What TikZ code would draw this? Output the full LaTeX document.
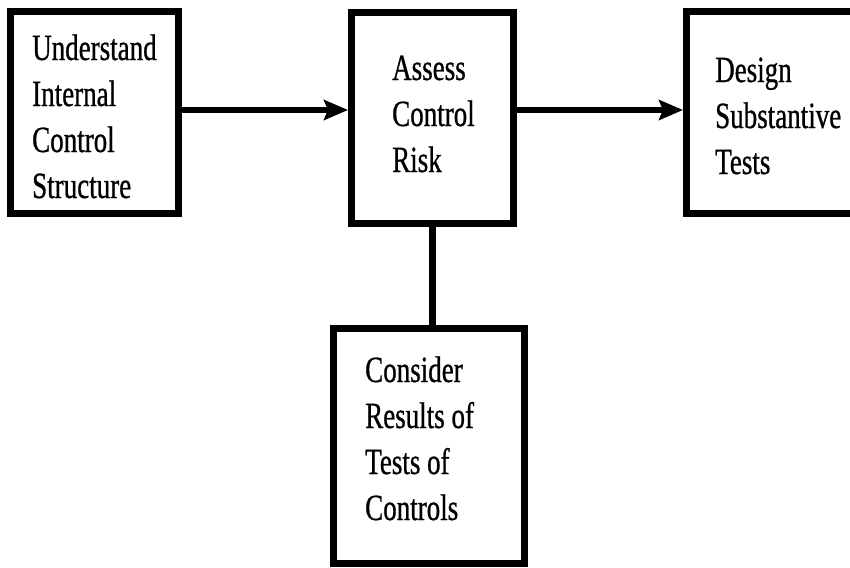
\documentclass[tikz,border=0pt]{standalone}
\usepackage{fontspec}
\newfontfamily\boxfont[FakeStretch=0.73,FakeBold=0.7]{Liberation Serif}
\usetikzlibrary{arrows.meta,positioning}
\begin{document}
\begin{tikzpicture}[x=1pt,y=-1pt,
  frame/.style={draw=black,line width=7pt,fill=white,rectangle,inner sep=0pt},
  caption/.style={anchor=base west,align=left,inner sep=0pt,
    font=\boxfont\fontsize{37}{46}\selectfont},
  link/.style={line width=6.5pt,draw=black},
  flow/.style={link,-{Stealth[length=24pt,width=20pt,inset=4pt]}}]
\useasboundingbox (0,0) rectangle (850,567);
% process boxes (border centre lines)
\node[frame,minimum width=168pt,minimum height=202pt] (understand) at (94.5,112.5) {};
\node[frame,minimum width=162pt,minimum height=211pt] (assess) at (432.5,118) {};
\node[frame,minimum width=184pt,minimum height=202pt] (design) at (778.5,112.5) {};
\node[frame,minimum width=191pt,minimum height=235pt] (consider) at (429,446) {};
% box texts (anchored at the baseline of the last line)
\node[caption] (t1) at (32,198) {Understand\\Internal\\Control\\Structure};
\node[caption] (t2) at (392,172) {Assess\\Control\\Risk};
\node[caption] (t3) at (715,174) {Design\\Substantive\\Tests};
\node[caption] (t4) at (365,520) {Consider\\Results of\\Tests of\\Controls};
% connectors
\coordinate (row) at (0,110);
\draw[flow] (understand.east |- row) -- (assess.west |- row);
\draw[flow] (assess.east |- row) -- (design.west |- row);
\draw[link] (assess.south) -- (assess.south |- consider.north);
\end{tikzpicture}
\end{document}
